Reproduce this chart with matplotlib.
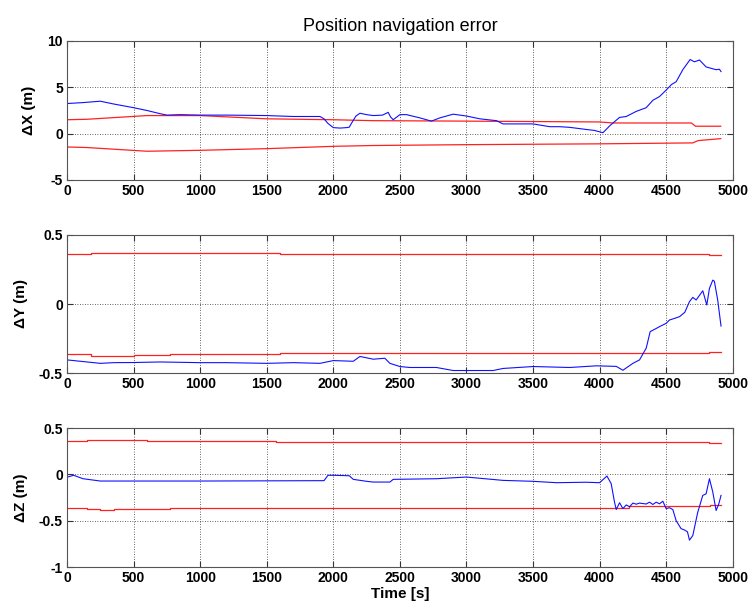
import matplotlib
matplotlib.use("Agg")
import matplotlib.pyplot as plt

plt.rcParams["font.family"] = ["Liberation Sans", "DejaVu Sans"]
plt.rcParams["axes.unicode_minus"] = False

# ---- East (X) error and its bounds ----
x_t = [0, 120, 250, 350, 500, 600, 700, 750, 850, 1000, 1200, 1500, 1700, 1900, 1930, 1960,
       2000, 2050, 2100, 2120, 2140, 2170, 2200, 2250, 2300, 2370, 2412, 2430, 2450, 2500,
       2550, 2650, 2737, 2800, 2900, 3000, 3100, 3225, 3275, 3400, 3500, 3625, 3700, 3775,
       3900, 3960, 4025, 4080, 4150, 4200, 4275, 4350, 4400, 4450, 4500, 4540, 4575, 4625,
       4680, 4712, 4750, 4780, 4800, 4850, 4875, 4900, 4912]
x_err = [3.25, 3.35, 3.5, 3.2, 2.8, 2.5, 2.15, 2.0, 2.05, 2.0, 2.0, 1.95, 1.85, 1.85, 1.6, 1.1,
         0.65, 0.6, 0.65, 0.7, 1.2, 1.9, 2.2, 2.05, 1.95, 2.0, 2.3, 1.8, 1.5, 2.05,
         2.05, 1.7, 1.35, 1.7, 2.1, 1.9, 1.6, 1.4, 1.05, 1.05, 1.05, 0.75, 0.75, 0.68,
         0.45, 0.35, 0.1, 0.9, 1.75, 1.85, 2.4, 2.8, 3.6, 4.0, 4.7, 5.3, 5.6, 6.9,
         8.0, 7.75, 7.95, 7.5, 7.2, 7.0, 6.9, 6.95, 6.7]
x_bt = [0, 150, 600, 1000, 1500, 2000, 2300, 3000, 4000, 4100, 4690, 4720, 4910]
x_up = [1.5, 1.55, 1.95, 1.95, 1.6, 1.5, 1.4, 1.35, 1.26, 1.15, 1.15, 0.8, 0.8]
x_lo_t = [0, 150, 600, 1000, 1500, 2000, 2300, 3000, 4000, 4700, 4740, 4910]
x_lo = [-1.44, -1.5, -1.9, -1.8, -1.62, -1.37, -1.28, -1.19, -1.1, -1.0, -0.75, -0.54]

# ---- North (Y) error and its bounds ----
y_t = [0, 100, 250, 350, 500, 700, 1000, 1200, 1500, 1700, 1900, 2000, 2150, 2200, 2300,
       2387, 2425, 2500, 2575, 2775, 2900, 3200, 3275, 3500, 3775, 3975, 4125, 4175, 4250,
       4300, 4350, 4380, 4420, 4450, 4500, 4525, 4560, 4600, 4640, 4675, 4700, 4725, 4775,
       4805, 4825, 4850, 4862, 4887, 4912]
y_err = [-0.405, -0.415, -0.43, -0.425, -0.424, -0.42, -0.425, -0.425, -0.43, -0.425, -0.43,
         -0.41, -0.415, -0.38, -0.4, -0.393, -0.43, -0.453, -0.46, -0.46, -0.482, -0.482,
         -0.467, -0.453, -0.46, -0.448, -0.452, -0.48, -0.43, -0.405, -0.32, -0.2, -0.18,
         -0.164, -0.14, -0.116, -0.105, -0.092, -0.06, 0.017, 0.048, 0.029, 0.096, -0.007,
         0.113, 0.173, 0.165, 0.029, -0.16]
y_bt = [0, 180, 500, 770, 1600, 4575, 4820, 4910]
y_up = [0.364, 0.373, 0.369, 0.369, 0.364, 0.359, 0.352, 0.352]
y_lo = [-0.361, -0.376, -0.369, -0.361, -0.354, -0.357, -0.347, -0.347]

# ---- Down (Z) error and its bounds ----
z_t = [0, 50, 120, 250, 500, 1000, 1500, 1930, 1960, 2000, 2120, 2150, 2250, 2300, 2425,
       2450, 2775, 3000, 3275, 3500, 3675, 3900, 4000, 4055, 4087, 4112, 4125, 4150, 4175,
       4200, 4225, 4250, 4275, 4300, 4350, 4375, 4400, 4425, 4450, 4475, 4500, 4525, 4550,
       4575, 4612, 4637, 4660, 4675, 4700, 4737, 4775, 4800, 4825, 4850, 4875, 4895, 4912]
z_err = [-0.03, -0.01, -0.047, -0.072, -0.072, -0.072, -0.07, -0.068, -0.01, -0.01, -0.015,
         -0.054, -0.075, -0.083, -0.083, -0.054, -0.047, -0.029, -0.065, -0.075, -0.09,
         -0.085, -0.09, -0.018, -0.1, -0.3, -0.38, -0.306, -0.37, -0.33, -0.35, -0.31,
         -0.322, -0.31, -0.32, -0.3, -0.325, -0.3, -0.318, -0.29, -0.37, -0.36, -0.38, -0.5,
         -0.586, -0.6, -0.62, -0.71, -0.66, -0.41, -0.227, -0.21, -0.047, -0.19, -0.39,
         -0.32, -0.227]
z_bt = [0, 150, 600, 1570, 4820, 4910]
z_up = [0.356, 0.374, 0.363, 0.353, 0.338, 0.338]
z_lo_t = [0, 150, 250, 350, 770, 4220, 4830, 4910]
z_lo = [-0.36, -0.37, -0.38, -0.37, -0.36, -0.345, -0.335, -0.335]

panels = [
    (x_t, x_err, x_bt, x_up, x_lo_t, x_lo, "default", "\u0394X (m)", (-5, 10),
     [-5, 0, 5, 10], ["-5", "0", "5", "10"]),
    (y_t, y_err, y_bt, y_up, y_bt, y_lo, "steps-post", "\u0394Y (m)", (-0.5, 0.5),
     [-0.5, 0, 0.5], ["-0.5", "0", "0.5"]),
    (z_t, z_err, z_bt, z_up, z_lo_t, z_lo, "steps-post", "\u0394Z (m)", (-1, 0.5),
     [-1, -0.5, 0, 0.5], ["-1", "-0.5", "0", "0.5"]),
]
xticks = [0, 500, 1000, 1500, 2000, 2500, 3000, 3500, 4000, 4500, 5000]

fig = plt.figure(figsize=(7.48, 6.08), dpi=100)
rects = [
    [0.0896, 0.704, 0.890, 0.2286],
    [0.0896, 0.3865, 0.890, 0.227],
    [0.0896, 0.0674, 0.890, 0.2286],
]

for i, (rect, p) in enumerate(zip(rects, panels)):
    t, e, bt, up, lt, lo, ds, lab, ylim, yt, ytl = p
    ax = fig.add_axes(rect)
    ax.plot(bt, up, color="#ff2020", lw=0.9, drawstyle=ds)
    ax.plot(lt, lo, color="#ff2020", lw=0.9, drawstyle=ds)
    ax.plot(t, e, color="#1010ff", lw=0.8)
    ax.set_xlim(0, 5000)
    ax.set_ylim(*ylim)
    ax.set_xticks(xticks)
    ax.set_xticklabels([str(v) for v in xticks], fontweight="bold", fontsize=10)
    ax.set_yticks(yt)
    ax.set_yticklabels(ytl, fontweight="bold", fontsize=10)
    ax.grid(True, color="#333333", linestyle=(0, (1, 2)), linewidth=0.6)
    ax.tick_params(direction="in", top=True, right=True, length=4, width=0.8,
                   color="#333333", pad=3)
    for s in ax.spines.values():
        s.set_color("#555555")
        s.set_linewidth(0.8)
    ax.set_ylabel(lab, fontweight="bold", fontsize=11, labelpad=8)
    if i == 0:
        ax.set_title("Position navigation error", fontsize=13, pad=7)
    if i == 2:
        ax.set_xlabel("Time [s]", fontweight="bold", fontsize=11, labelpad=1)

fig.savefig("out.png", dpi=100)
